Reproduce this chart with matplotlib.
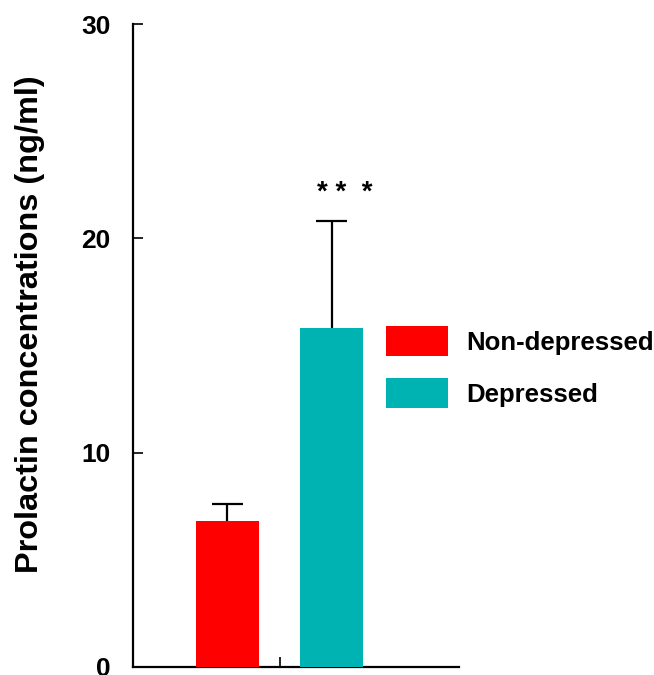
import matplotlib.pyplot as plt
from matplotlib.patches import Patch

plt.rcParams['font.family'] = ['Liberation Sans', 'DejaVu Sans']
plt.rcParams['font.weight'] = 'bold'

groups = ['Non-depressed', 'Depressed']
means = [6.8, 15.8]
sem = [0.8, 5.0]
colors = ['#FF0000', '#00B3B3']
yticks = [0, 10, 20, 30]

fig = plt.figure(figsize=(6.54, 6.75), dpi=100)
ax = fig.add_axes([133 / 654, 1 - 667 / 675, (459 - 133) / 654, (667 - 24) / 675])

xpos = [0, 1]
bar_w = 0.6
ax.bar(xpos, means, width=bar_w, color=colors, zorder=3)

# upper error bars only: stem from bar top plus a cap half the bar wide
tops = [m + e for m, e in zip(means, sem)]
ax.vlines(xpos, means, tops, color='black', lw=1.6, zorder=2)
ax.hlines(tops, [x - bar_w / 4 for x in xpos], [x + bar_w / 4 for x in xpos],
          color='black', lw=1.6, zorder=2)

ax.text(1.125, 21.8, '* *  *', ha='center', va='baseline', fontsize=20)

ax.set_ylim(0, 30)
ax.set_xlim(-0.904, 2.22)
ax.set_yticks(yticks)
ax.set_yticklabels([str(t) for t in yticks], fontsize=19, fontweight='bold')
ax.set_xticks([0.5])
ax.set_xticklabels([''])
ax.tick_params(axis='y', direction='in', length=7.5, width=1.2, pad=16)
ax.tick_params(axis='x', direction='in', length=7.5, width=1.2)

for s in ['top', 'right']:
    ax.spines[s].set_visible(False)
for s in ['left', 'bottom']:
    ax.spines[s].set_linewidth(1.6)

fig.text(30 / 654, 1 - 324 / 675, 'Prolactin concentrations (ng/ml)', rotation=90,
         ha='center', va='center', fontsize=23.4, fontweight='bold')

handles = [Patch(facecolor=c, edgecolor='none') for c in colors]
fig.legend(handles, groups, loc='upper left', bbox_to_anchor=(386 / 654, 1 - 326 / 675),
           frameon=False, handlelength=2.4, handleheight=1.43,
           handletextpad=0.74, labelspacing=0.86, borderpad=0, borderaxespad=0,
           prop={'weight': 'bold', 'size': 18.5})

fig.savefig('out.png', dpi=100)
